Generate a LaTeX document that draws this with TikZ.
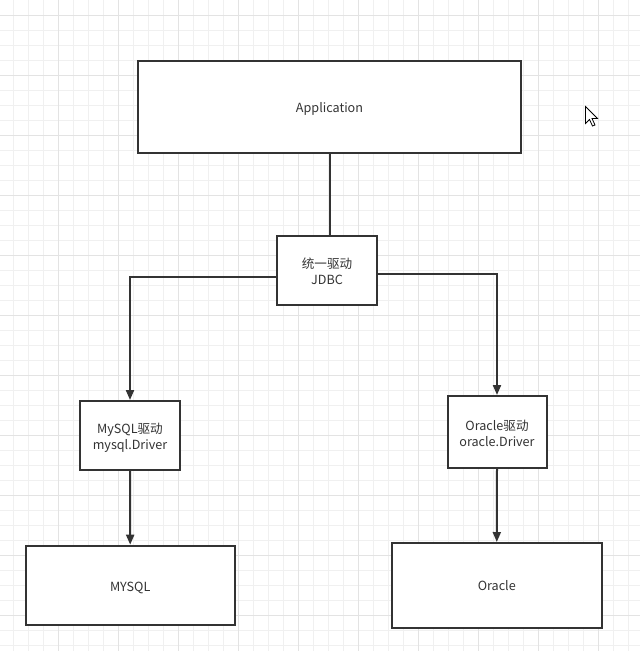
\documentclass[tikz,border=0pt]{standalone}
\usepackage{fontspec}
\setmainfont{Noto Sans CJK SC}
\usetikzlibrary{arrows.meta}
\definecolor{gridminor}{HTML}{F0F0F0}
\definecolor{gridmajor}{HTML}{E3E3E3}
\definecolor{ink}{HTML}{333333}
\tikzset{
  box/.style={draw=ink, line width=2pt, fill=white, inner sep=0pt, align=center,
    text=ink, font=\fontsize{12.6pt}{16pt}\selectfont},
  lower/.style={execute at begin node={\vspace*{#1}}},
  conn/.style={draw=ink, line width=2pt},
  arr/.style={conn, -{Triangle[length=10pt,width=8pt]}},
}
\begin{document}
\begin{tikzpicture}[x=1pt,y=-1pt]
\useasboundingbox (0,0) rectangle (640,651);
\fill[white] (0,0) rectangle (640,651);
% grid
\foreach \i in {0,...,42} {
  \draw[gridminor, line width=1pt] ({13.3+15*\i},0) -- ({13.3+15*\i},651);
}
\foreach \j in {1,...,43} {
  \draw[gridminor, line width=1pt] (0,{15*\j}) -- (640,{15*\j});
}
\foreach \i in {0,...,10} {
  \draw[gridmajor, line width=1pt] ({58.3+60*\i},0) -- ({58.3+60*\i},651);
}
\foreach \j in {0,...,10} {
  \draw[gridmajor, line width=1pt] (0,{15+60*\j}) -- (640,{15+60*\j});
}
% nodes
\node[box, minimum width=383pt, minimum height=92pt, text height=13pt, text depth=3pt] (app) at (329.5,107) {Application};
\node[box, minimum width=100pt, minimum height=69pt] (jdbc) at (327,270.5) {\rule{0pt}{13pt}统一驱动\\JDBC};
\node[box, minimum width=100pt, minimum height=69pt] (mydrv) at (130,435.5) {\rule{0pt}{14pt}MySQL驱动\\mysql.Driver};
\node[box, minimum width=99pt, minimum height=72pt] (ordrv) at (497,432) {\rule{0pt}{14pt}Oracle驱动\\oracle.Driver};
\node[box, minimum width=209pt, minimum height=79pt, text height=15pt, text depth=3pt] (mysql) at (130.2,585.2) {MYSQL};
\node[box, minimum width=210pt, minimum height=85pt, text height=13pt, text depth=3pt] (oracle) at (496.8,585.5) {Oracle};
% connectors
\coordinate (appout) at (329.5,153);
\draw[conn] (appout) -- (appout |- jdbc.north);
\coordinate (jl) at ([yshift=-6.5pt]jdbc.west);
\coordinate (jr) at ([yshift=-3.5pt]jdbc.east);
\coordinate (lc) at (mydrv.north |- jl);
\coordinate (rc) at (ordrv.north |- jr);
\draw[arr] (jl) -- (lc) -- (mydrv.north);
\draw[arr] (jr) -- (rc) -- (ordrv.north);
\draw[arr] (mydrv.south) -- (mysql.north);
\draw[arr] (ordrv.south) -- (oracle.north);
% mouse cursor
\draw[fill=white, draw=black, line width=0.8pt, line join=miter]
  (585.5,106.5) -- ++(0,17) -- ++(4,-4) -- ++(3,6.5) -- ++(2.5,-1) -- ++(-3,-6.5) -- ++(5.5,0) -- cycle;
\end{tikzpicture}
\end{document}
